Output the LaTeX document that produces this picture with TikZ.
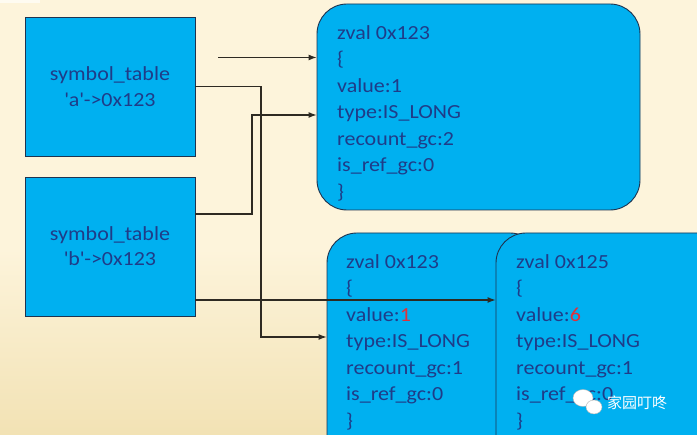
\documentclass[tikz,border=0pt]{standalone}
\usepackage{fontspec}
\setmainfont{Carlito}[FakeStretch=1.1]
\newfontfamily\cjk{Noto Sans CJK SC}
\usetikzlibrary{arrows.meta,calc}
\definecolor{bgcol}{HTML}{FDF4DB}
\definecolor{bgcolm}{HTML}{FAEFCF}
\definecolor{bgcolb}{HTML}{F2E2B4}
\definecolor{boxblue}{HTML}{00B0F0}
\definecolor{edge}{HTML}{1E3350}
\definecolor{navy}{HTML}{1F3C88}
\definecolor{zred}{HTML}{E0303A}
\definecolor{linecol}{HTML}{2E2A22}
\tikzset{
  sqbox/.style={draw=edge, line width=0.8pt, fill=boxblue, minimum width=170pt, minimum height=139pt, inner sep=0pt},
  zbox/.style={draw=edge, line width=0.9pt, fill=boxblue, rounded corners=30pt, inner sep=0pt},
  ztext/.style={anchor=base west, inner sep=0pt, text=navy, font=\fontsize{20}{24}\selectfont},
  stext/.style={anchor=base, inner sep=0pt, text=navy, font=\fontsize{20}{24}\selectfont},
  arr/.style={draw=linecol, line width=1.1pt, -{Latex[length=8pt,width=6pt]}},
}
\begin{document}
\begin{tikzpicture}[x=1pt,y=-1pt]
\useasboundingbox (0,0) rectangle (697,435);
\fill[bgcol] (0,0) rectangle (697,250);
\shade[top color=bgcol, bottom color=bgcolb] (0,249) rectangle (697,435);
\fill[white!60!bgcol] (0,0) rectangle (40,3);
\begin{scope}
\clip (0,0) rectangle (697,435);
% symbol tables
\node[sqbox] (a) at (110,86.5) {};
\node[stext] (a1) at (110,80.5) {symbol\_table};
\node[stext] (a2) at (110,106.5) {\textquotesingle a\textquotesingle->0x123};
\node[sqbox] (b) at (110,247) {};
\node[stext] (b1) at (110,240.5) {symbol\_table};
\node[stext] (b2) at (110,265.5) {\textquotesingle b\textquotesingle->0x123};
% zval boxes
\node[zbox, minimum width=323pt, minimum height=206pt] (z1) at (478.5,107) {};
\foreach \t [count=\i] in {zval 0x123,\{,value:1,type:IS\_LONG,recount\_gc:2,is\_ref\_gc:0,\}}
  \node[ztext] (u\i) at (337, 39.4+26.5*\i-26.5) {\t};
\node[zbox, minimum width=213pt, minimum height=247pt] (z2) at (433.5,356.5) {};
\foreach \t [count=\i] in {zval 0x123,\{,{value:\textcolor{zred}{1}},type:IS\_LONG,recount\_gc:1,is\_ref\_gc:0,\}}
  \node[ztext] (v\i) at (346, 268.4+26.5*\i-26.5) {\t};
\node[zbox, minimum width=244pt, minimum height=247pt] (z3) at (618,356.5) {};
\foreach \t [count=\i] in {zval 0x125,\{,{value:\textcolor{zred}{6}},type:IS\_LONG,recount\_gc:1,is\_ref\_gc:0,\}}
  \node[ztext] (w\i) at (516, 268.4+26.5*\i-26.5) {\t};
% connectors
\coordinate (s1) at (218,57.5);
\draw[arr] (s1) -- (s1 -| z1.west);
\coordinate (k2) at (261,337);
\draw[arr] (a.east) -| (k2) -- (k2 -| z2.west);
\coordinate (b3) at ([yshift=33pt]b.east);
\coordinate (k3) at (252,115);
\draw[arr] (b3) -| (k3) -- (k3 -| z1.west);
\coordinate (b4) at ([yshift=-53pt]b.east);
\draw[arr] (b4) -- (b4 -| z3.west);
% watermark
\fill[white, draw=gray!60, line width=0.4pt] (583,398) ellipse (10pt and 8.5pt);
\fill[white, draw=gray!60, line width=0.4pt] (594,407) ellipse (8pt and 7pt);
\node[anchor=west, inner sep=0pt, text=white, font=\cjk\fontsize{15}{18}\selectfont] (wm) at (607,403) {家园叮咚};
\end{scope}
\end{tikzpicture}
\end{document}
